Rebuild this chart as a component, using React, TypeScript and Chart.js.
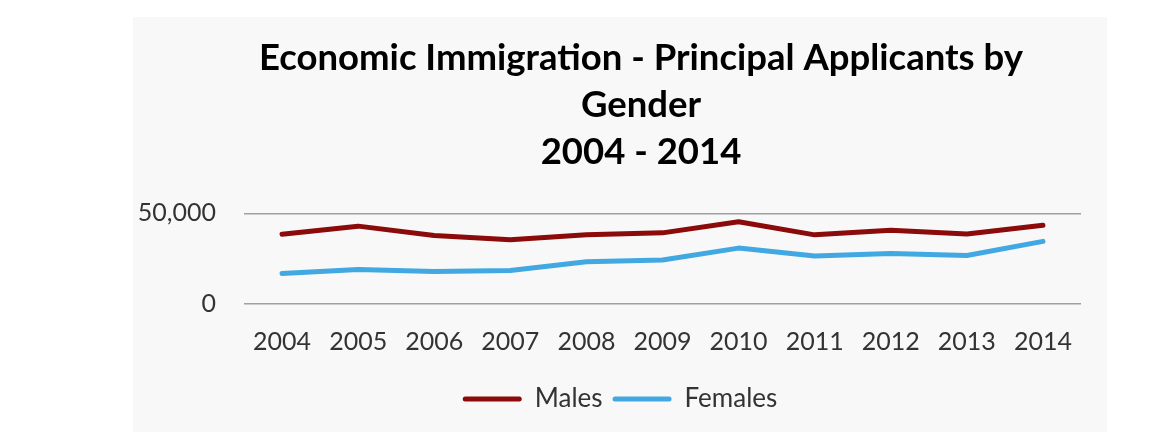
import React, { useEffect, useRef } from "react";
import { Chart, registerables } from "chart.js";

Chart.register(...registerables);

const years = ["2004", "2005", "2006", "2007", "2008", "2009", "2010", "2011", "2012", "2013", "2014"];
const males = [38400, 42900, 37700, 35400, 38200, 39200, 45300, 38100, 40600, 38600, 43400];
const females = [16800, 19000, 17900, 18500, 23300, 24200, 30800, 26500, 27800, 26700, 34500];
const titleLines = ["Economic Immigration - Principal Applicants by", "Gender", "2004 - 2014"];
const seriesNames = ["Males", "Females"];
const seriesColors = ["#8b0a0a", "#41a8e1"];

// title and legend are centred on slightly different spans than the full canvas
const centreShift = {
  id: "centreShift",
  afterLayout(chart: any) {
    if (chart.titleBlock) chart.titleBlock.left += 68;
    if (chart.legend) chart.legend.left += 26;
  },
};

export default function App() {
  const ref = useRef<HTMLCanvasElement | null>(null);

  useEffect(() => {
    if (!ref.current) return;
    const chart = new Chart(ref.current, {
      type: "line",
      plugins: [centreShift],
      data: {
        labels: years,
        datasets: [
          {
            label: seriesNames[0],
            data: males,
            borderColor: seriesColors[0],
            backgroundColor: seriesColors[0],
            borderWidth: 5,
            pointRadius: 0,
            tension: 0,
            borderCapStyle: "round",
            borderJoinStyle: "round",
          },
          {
            label: seriesNames[1],
            data: females,
            borderColor: seriesColors[1],
            backgroundColor: seriesColors[1],
            borderWidth: 5,
            pointRadius: 0,
            tension: 0,
            borderCapStyle: "round",
            borderJoinStyle: "round",
          },
        ],
      },
      options: {
        animation: false,
        responsive: true,
        maintainAspectRatio: false,
        layout: { padding: { left: 0, right: 26, top: 0, bottom: 10 } },
        plugins: {
          title: {
            display: true,
            text: titleLines,
            color: "#000000",
            font: { family: "Lato", size: 36.5, weight: "bold", lineHeight: 1.29 },
            padding: { top: 18, bottom: 37 },
          },
          legend: {
            position: "bottom",
            labels: {
              color: "#333333",
              font: { family: "Lato", size: 26 },
              boxWidth: 59,
              boxHeight: 5,
              padding: 10,
              generateLabels: (c: any) =>
                c.data.datasets.map((ds: any, i: number) => ({
                  text: ds.label,
                  fillStyle: seriesColors[i],
                  strokeStyle: seriesColors[i],
                  lineWidth: 0,
                  borderRadius: 2.5,
                  datasetIndex: i,
                  hidden: false,
                  fontColor: "#333333",
                })),
            },
          },
          tooltip: { enabled: false },
        },
        scales: {
          x: {
            offset: true,
            grid: { display: false, drawTicks: false },
            border: { display: false },
            ticks: { color: "#333333", font: { family: "Lato", size: 25 }, padding: 23, maxRotation: 0 },
            afterFit: (s: any) => {
              s.height = 72;
            },
          },
          y: {
            min: 0,
            max: 50000,
            grid: { color: "#a0a0a0", lineWidth: 1.5, drawTicks: false },
            border: { display: false },
            ticks: {
              stepSize: 50000,
              color: "#333333",
              font: { family: "Lato", size: 25 },
              padding: 28,
              callback: (v: any) => Number(v).toLocaleString("en-US"),
            },
            afterFit: (s: any) => {
              s.width = 111;
            },
          },
        },
      },
    });
    return () => chart.destroy();
  }, []);

  return (
    <div
      style={{
        position: "absolute",
        left: 133,
        top: 17,
        width: 974,
        height: 415,
        background: "#f8f8f8",
      }}
    >
      <canvas ref={ref} />
    </div>
  );
}
